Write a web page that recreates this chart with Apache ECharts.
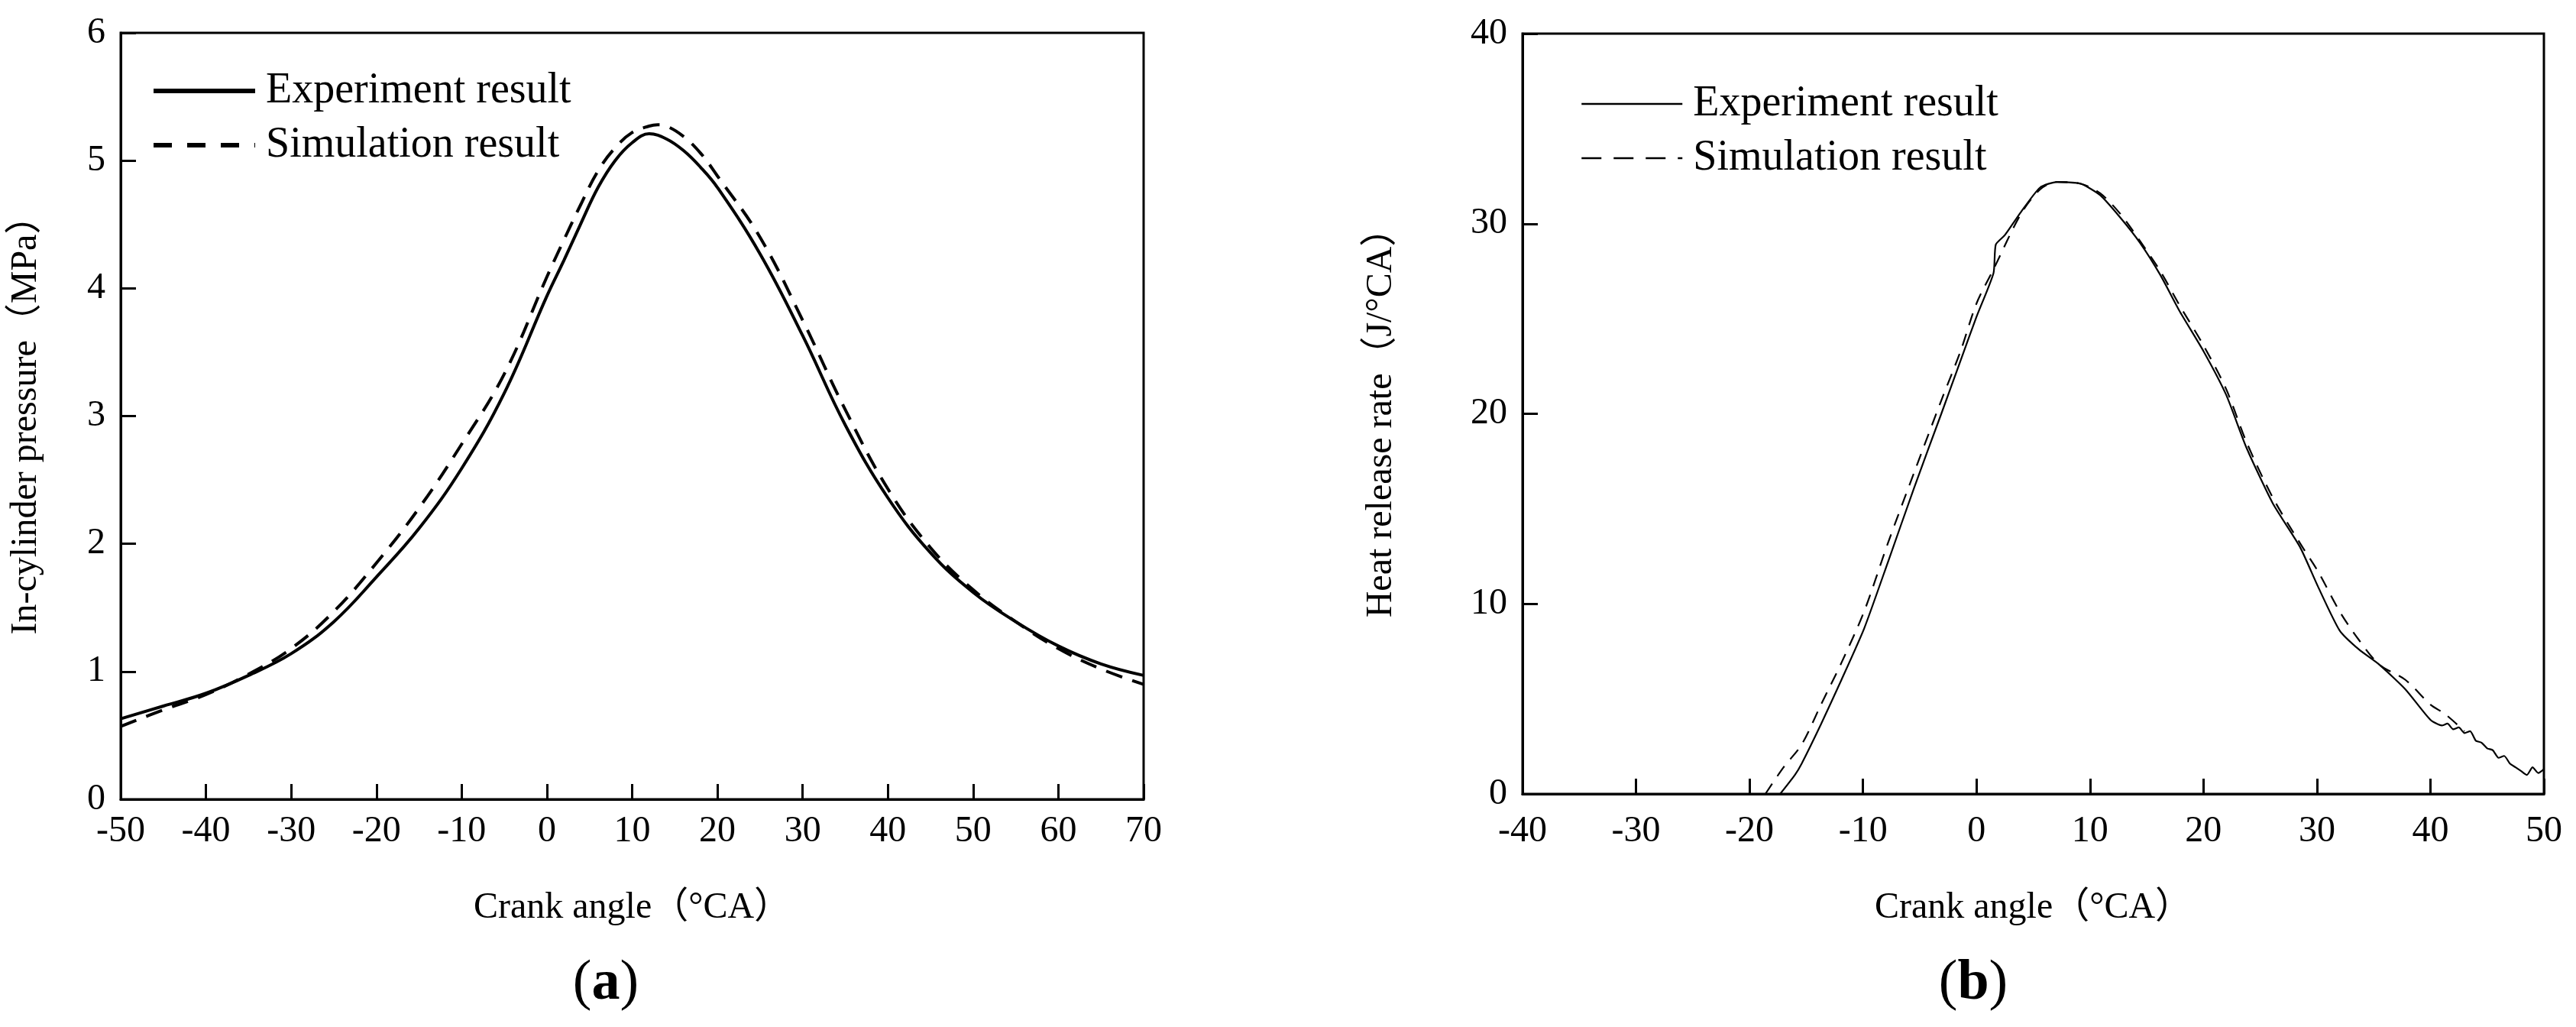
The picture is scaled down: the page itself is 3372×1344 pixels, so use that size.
<!DOCTYPE html>
<html>
<head>
<meta charset="utf-8">
<script src="https://cdn.jsdelivr.net/npm/echarts@6/dist/echarts.min.js"></script>
<style>
html,body{margin:0;padding:0;background:#fff;}
#chart{width:3372px;height:1344px;}
</style>
</head>
<body>
<div id="chart"></div>
<script>
// ---- Data (a): in-cylinder pressure ----
const pressureExpAngle = [-50,-45,-40,-35,-30,-25,-20,-15,-10,-5,0,2,4,6,8,10,12,14,16,18,20,25,30,35,40,45,50,55,60,65,70];
const pressureExp = [0.63,0.73,0.83,0.97,1.14,1.39,1.74,2.12,2.59,3.18,3.94,4.22,4.51,4.79,5.00,5.14,5.21,5.17,5.08,4.95,4.79,4.27,3.63,2.93,2.36,1.93,1.62,1.39,1.20,1.06,0.97];
const pressureSimAngle = [-50,-45,-40,-35,-30,-25,-20,-15,-10,-5,0,2,4,6,8,10,12,13,14,16,18,20,25,30,35,40,45,50,55,60,65,70];
const pressureSim = [0.57,0.70,0.82,0.98,1.18,1.47,1.85,2.28,2.78,3.33,4.09,4.38,4.66,4.92,5.10,5.22,5.27,5.28,5.27,5.19,5.06,4.88,4.40,3.75,3.05,2.43,1.97,1.64,1.39,1.18,1.02,0.90];

// ---- Data (b): heat release rate ----
const hrrExpAngle = [-17.3,-16,-15.4,-13.7,-11.9,-9.9,-7.8,-5.5,-3.1,-1.4,0,1.5,1.7,2.5,3.9,5.6,7.1,9.2,10.9,12.7,14.4,16.2,17.9,20,22,23.8,26.1,28.5,30.1,32,33.7,35.5,37.8,40,41,41.5,42,42.5,43,43.5,44,44.5,45,45.5,46,46.5,47,47.5,48,48.5,49,49.5,50];
const hrrExp = [0,1.0,1.6,3.67,6.0,8.7,12.2,16.1,20.0,22.8,25.1,27.4,28.9,29.4,30.6,31.9,32.2,32.1,31.5,30.3,29.0,27.3,25.4,23.3,21.0,18.2,15.3,13.0,10.9,8.6,7.6,6.8,5.5,3.9,3.6,3.7,3.4,3.5,3.2,3.3,2.8,2.7,2.4,2.3,1.9,2.0,1.6,1.4,1.2,1.0,1.4,1.1,1.3];
const hrrSimAngle = [-18.6,-17,-15.4,-13.7,-11.9,-9.9,-7.8,-5.5,-3.1,-1.4,0,1.5,3.9,5.6,7.1,9.2,10.9,12.7,14.4,16.2,17.9,20,22,23.8,26.1,28.5,30.1,32,33.7,35.5,37.8,40,41.3,43];
const hrrSim = [0,1.4,2.6,4.7,6.9,9.6,13.2,16.9,20.7,23.3,25.8,27.6,30.5,31.8,32.2,32.1,31.6,30.5,29.1,27.5,25.7,23.6,21.3,18.5,15.6,13.2,11.7,9.6,8.1,6.8,6.0,4.7,4.2,3.3];

// ---- Tick values ----
const xTicksA = [-50,70,10];
const yTicksA = [0,6,1];
const xTicksB = [-40,50,10];
const yTicksB = [0,40,10];

const FONT = '"Liberation Serif","Noto Sans CJK SC",serif';
const zip = (xs, ys) => xs.map((x, i) => [x, ys[i]]);

function xAxisCfg(gi, t, margin, gap) {
  return {
    type: 'value', gridIndex: gi, min: t[0], max: t[1], interval: t[2],
    name: 'Crank angle（°CA）', nameLocation: 'middle', nameGap: gap,
    nameTextStyle: {fontFamily: FONT, fontSize: 48, color: '#000'},
    axisLine: {show: true, onZero: false, lineStyle: {color: '#000', width: 3}},
    axisTick: {show: true, inside: true, length: 20, lineStyle: {color: '#000', width: 3}},
    axisLabel: {fontFamily: FONT, fontSize: 48, color: '#000', margin: margin},
    splitLine: {show: false}
  };
}
function yAxisCfg(gi, t, name, gap) {
  return {
    type: 'value', gridIndex: gi, min: t[0], max: t[1], interval: t[2],
    name: name, nameLocation: 'middle', nameGap: gap, nameRotate: 90,
    nameTextStyle: {fontFamily: FONT, fontSize: 48, color: '#000'},
    axisLine: {show: true, onZero: false, lineStyle: {color: '#000', width: 3}},
    axisTick: {show: true, inside: true, length: 20, lineStyle: {color: '#000', width: 3}},
    axisLabel: {fontFamily: FONT, fontSize: 48, color: '#000', margin: 20},
    splitLine: {show: false}
  };
}

const titleRich = {
  p: {fontFamily: FONT, fontSize: 74, color: '#000', fontWeight: 'normal'},
  b: {fontFamily: FONT, fontSize: 74, fontWeight: 'bold', color: '#000'}
};

const chart = echarts.init(document.getElementById('chart'), null, {renderer: 'canvas'});
chart.setOption({
  backgroundColor: '#fff',
  animation: false,
  color: ['#000', '#000'],
  title: [
    {text: '{p|(}{b|a}{p|)}', left: 788, top: 1246, textAlign: 'center', textStyle: {fontWeight: 'normal', rich: titleRich}},
    {text: '{p|(}{b|b}{p|)}', left: 2578, top: 1246, textAlign: 'center', textStyle: {fontWeight: 'normal', rich: titleRich}}
  ],
  grid: [
    {left: 158, top: 43, width: 1339, height: 1003, show: true, borderColor: '#000', borderWidth: 3, containLabel: false},
    {left: 1993, top: 44, width: 1337, height: 995, show: true, borderColor: '#000', borderWidth: 3, containLabel: false}
  ],
  legend: [
    {orient: 'vertical', left: 193, top: 86, itemWidth: 133, itemHeight: 14, itemGap: 15,
     itemStyle: {opacity: 0},
     textStyle: {fontFamily: FONT, fontSize: 56, color: '#000', padding: [0, 0, 0, 9]},
     data: [
       {name: 'Experiment result', itemStyle: {opacity: 0}, lineStyle: {color: '#000', width: 6, type: 'solid'}},
       {name: 'Simulation result', itemStyle: {opacity: 0}, lineStyle: {color: '#000', width: 6, type: [24, 20]}}
     ]},
    {orient: 'vertical', left: 2064, top: 103, itemWidth: 132, itemHeight: 14, itemGap: 15,
     itemStyle: {opacity: 0},
     textStyle: {fontFamily: FONT, fontSize: 56, color: '#000', padding: [0, 0, 0, 9]},
     data: [
       {name: 'Experiment result', itemStyle: {opacity: 0}, lineStyle: {color: '#000', width: 2.5, type: 'solid'}},
       {name: 'Simulation result', itemStyle: {opacity: 0}, lineStyle: {color: '#000', width: 2.5, type: [26, 16]}}
     ]}
  ],
  xAxis: [xAxisCfg(0, xTicksA, 18, 118), xAxisCfg(1, xTicksB, 25, 125)],
  yAxis: [
    yAxisCfg(0, yTicksA, 'In-cylinder pressure（MPa）', 100),
    yAxisCfg(1, yTicksB, 'Heat release rate（J/°CA）', 161)
  ],
  series: [
    {name: 'Experiment result', type: 'line', xAxisIndex: 0, yAxisIndex: 0, showSymbol: false, symbol: 'none', smooth: 0.4,
     itemStyle: {color: '#000'}, lineStyle: {color: '#000', width: 4, type: 'solid'}, data: zip(pressureExpAngle, pressureExp)},
    {name: 'Simulation result', type: 'line', xAxisIndex: 0, yAxisIndex: 0, showSymbol: false, symbol: 'none', smooth: 0.4,
     itemStyle: {color: '#000'}, lineStyle: {color: '#000', width: 4, type: [22, 14]}, data: zip(pressureSimAngle, pressureSim)},
    {name: 'Experiment result', type: 'line', xAxisIndex: 1, yAxisIndex: 1, showSymbol: false, symbol: 'none', smooth: 0.2,
     itemStyle: {color: '#000'}, lineStyle: {color: '#000', width: 2.2, type: 'solid'}, data: zip(hrrExpAngle, hrrExp)},
    {name: 'Simulation result', type: 'line', xAxisIndex: 1, yAxisIndex: 1, showSymbol: false, symbol: 'none', smooth: 0.3,
     itemStyle: {color: '#000'}, lineStyle: {color: '#000', width: 2.2, type: [16, 12]}, data: zip(hrrSimAngle, hrrSim)}
  ]
});
</script>
</body>
</html>
